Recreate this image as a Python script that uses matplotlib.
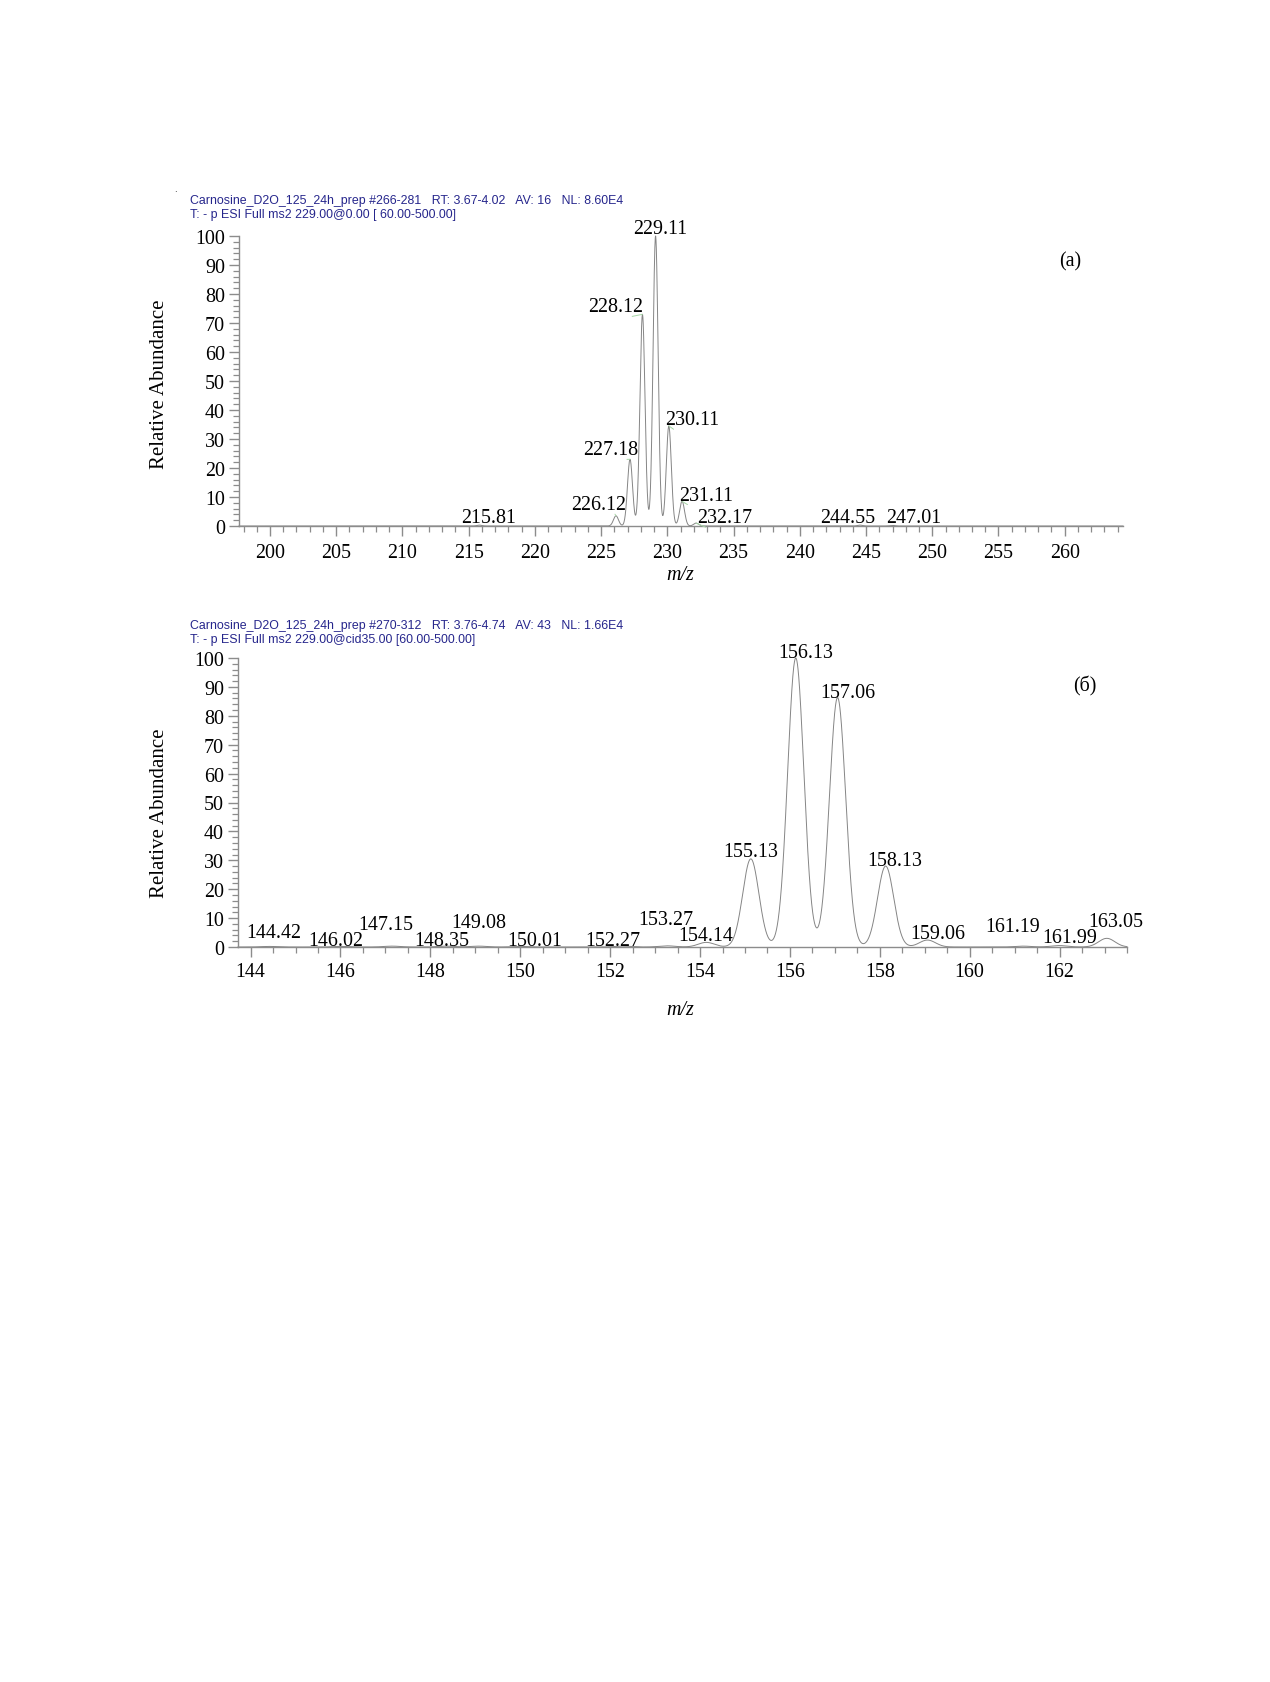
import numpy as np
import matplotlib
matplotlib.use("Agg")
import matplotlib.pyplot as plt
from matplotlib.ticker import MultipleLocator, FixedLocator

# ---------------- data ----------------
top_mz = [215.81, 226.12, 227.18, 228.12, 229.11, 230.11, 231.11, 232.17, 244.55, 247.01]
top_int = [0.3, 3.5, 23.0, 73.0, 100.0, 34.5, 8.5, 1.0, 0.3, 0.2]

bot_mz = [144.42, 146.02, 147.15, 148.35, 149.08, 150.01, 152.27, 153.27, 154.14,
          155.13, 156.13, 157.06, 158.13, 159.06, 161.19, 161.99, 163.05]
bot_int = [0.2, 0.2, 0.3, 0.3, 0.3, 0.2, 0.3, 0.4, 1.6,
           30.5, 100.0, 86.3, 28.0, 2.4, 0.3, 0.5, 3.0]

top_xticks = [200, 205, 210, 215, 220, 225, 230, 235, 240, 245, 250, 255, 260]
bot_xticks = [144, 146, 148, 150, 152, 154, 156, 158, 160, 162]
y_ticks = [0, 10, 20, 30, 40, 50, 60, 70, 80, 90, 100]

top_header = ["Carnosine_D2O_125_24h_prep #266-281   RT: 3.67-4.02   AV: 16   NL: 8.60E4",
              "T: - p ESI Full ms2 229.00@0.00 [ 60.00-500.00]"]
bot_header = ["Carnosine_D2O_125_24h_prep #270-312   RT: 3.76-4.74   AV: 43   NL: 1.66E4",
              "T: - p ESI Full ms2 229.00@cid35.00 [60.00-500.00]"]
panel_tags = ["(a)", "(б)"]

# ---------------- layout (label anchor positions, data coords, text baseline) ----------------
top_label_xy = [(216.49, 1.3), (224.8, 5.8), (225.7, 24.7), (226.1, 74.0), (229.45, 101.1),
                (231.9, 35.1), (232.95, 9.1), (234.35, 1.3), (243.6, 1.3), (248.6, 1.3)]
bot_label_xy = [(144.52, 3.3), (145.9, 0.7), (147.0, 6.3), (148.25, 0.7), (149.08, 7.0),
                (150.33, 0.7), (152.07, 0.7), (153.24, 8.0), (154.13, 2.5), (155.13, 31.6),
                (156.36, 100.2), (157.28, 86.4), (158.33, 28.5), (159.3, 3.0), (160.95, 5.5),
                (162.22, 1.8), (163.25, 7.1)]

W, H = 1270, 1683
SERIF = ["Liberation Serif", "DejaVu Serif"]
SANS = ["Liberation Sans", "DejaVu Sans"]
AXC = "#8c8c8c"
LINEC = "#858585"
LEADC = "#a6d6a6"
HDRC = "#26268c"
FS = 14.4

fig = plt.figure(figsize=(W / 100, H / 100), dpi=100)
fig.patch.set_facecolor("white")


def profile(x, mz, inten, sigma):
    y = np.zeros_like(x)
    for m, h in zip(mz, inten):
        y += h * np.exp(-(x - m) ** 2 / (2 * sigma ** 2))
    return y


def make_panel(rect, xlim, mz, inten, sigma, labels_xy, xticks, xminor, xpad):
    ax = fig.add_axes(rect)
    x = np.linspace(xlim[0], xlim[1], 6000)
    ax.plot(x, profile(x, mz, inten, sigma), color=LINEC, lw=0.7, clip_on=False)
    ax.set_xlim(*xlim)
    ax.set_ylim(0, 100)
    for s in ("top", "right"):
        ax.spines[s].set_visible(False)
    for s in ("left", "bottom"):
        ax.spines[s].set_color(AXC)
        ax.spines[s].set_linewidth(1.0)
    ax.xaxis.set_major_locator(FixedLocator(xticks))
    ax.xaxis.set_minor_locator(MultipleLocator(xminor))
    ax.yaxis.set_major_locator(FixedLocator(y_ticks))
    ax.yaxis.set_minor_locator(MultipleLocator(2))
    ax.tick_params(which="major", direction="out", length=7, width=1.0, color=AXC)
    ax.tick_params(which="minor", direction="out", length=4.5, width=0.9, color=AXC)
    ax.tick_params(axis="x", which="major", pad=xpad, labelsize=FS)
    ax.tick_params(axis="y", which="major", pad=3, labelsize=FS)
    for lab in ax.get_xticklabels() + ax.get_yticklabels():
        lab.set_fontfamily(SERIF)
    span = xlim[1] - xlim[0]
    for m, h, (lx, ly) in zip(mz, inten, labels_xy):
        d = m - lx
        props = None
        if h >= 1.0 and abs(d) > 0.015 * span:
            rx = 0.8 if d > 0 else 0.15
            props = dict(arrowstyle="-", color=LEADC, lw=0.7,
                         shrinkA=0, shrinkB=0, relpos=(rx, 0.0))
        ax.annotate(f"{m:.2f}", xy=(m, h), xytext=(lx, ly), ha="center", va="baseline",
                    fontsize=FS, family=SERIF, color="black", annotation_clip=False,
                    arrowprops=props)
    return ax


ax1 = make_panel([239 / W, 1 - 527 / H, (1123 - 239) / W, 290 / H], (197.66, 264.4),
                 top_mz, top_int, 0.19, top_label_xy, top_xticks, 1, 5)
ax2 = make_panel([238 / W, 1 - 948 / H, (1127 - 238) / W, 289 / H], (143.72, 163.5),
                 bot_mz, bot_int, 0.18, bot_label_xy, bot_xticks, 0.5, 3.8)

# headers
for hdr, y0 in ((top_header, 201), (bot_header, 626)):
    fig.text(190 / W, 1 - y0 / H, hdr[0], fontsize=8.9, family=SANS, color=HDRC, va="center", ha="left")
    fig.text(190 / W, 1 - (y0 + 14) / H, hdr[1], fontsize=8.9, family=SANS, color=HDRC, va="center", ha="left")

fig.text(175 / W, 1 - 189 / H, ".", fontsize=6, color="black", ha="center", va="center")

# axis titles
for yc in (384, 813):
    fig.text(159 / W, 1 - yc / H, "Relative Abundance", rotation=90, fontsize=15,
             family=SERIF, ha="center", va="center")
for yc in (576, 1011):
    fig.text(680 / W, 1 - yc / H, "m/z", fontsize=FS, family=SERIF, style="italic",
             ha="center", va="center")

fig.text(1070 / W, 1 - 262 / H, panel_tags[0], fontsize=FS, family=SERIF, ha="center", va="center")
fig.text(1085 / W, 1 - 686 / H, panel_tags[1], fontsize=FS, family=SERIF, ha="center", va="center")

fig.savefig("out.png", dpi=100, facecolor="white")
